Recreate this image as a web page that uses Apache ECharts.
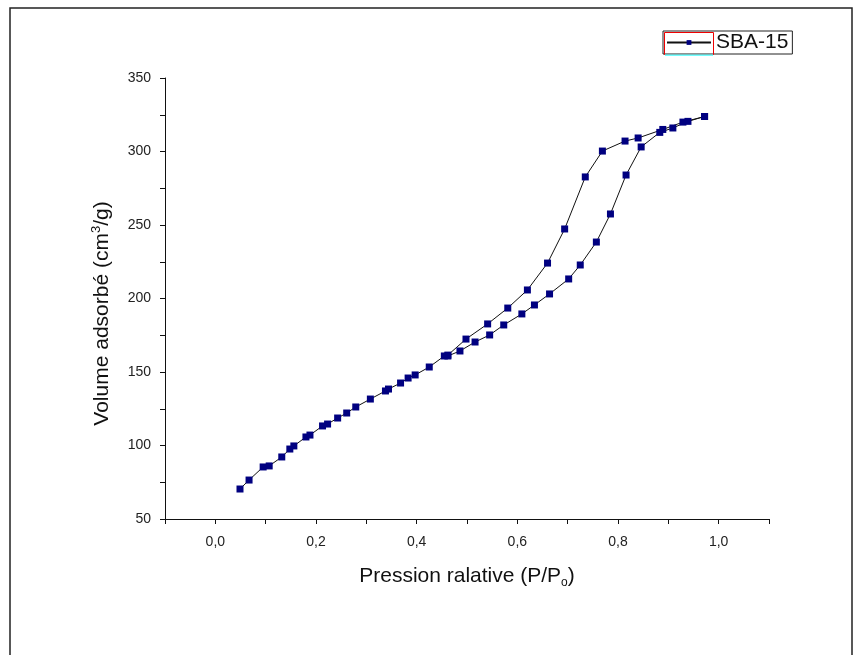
<!DOCTYPE html>
<html>
<head>
<meta charset="utf-8">
<script src="https://cdn.jsdelivr.net/npm/echarts@6/dist/echarts.min.js"></script>
<style>html,body{margin:0;padding:0;background:#fff;}#c{width:861px;height:655px;}</style>
</head>
<body>
<div id="c"></div>
<script>
// Adsorption branch (P/P0, volume cm3/g)
var adsX = [0.049,0.067,0.095,0.107,0.132,0.148,0.156,0.180,0.188,0.213,0.223,0.243,0.261,0.279,0.308,0.338,0.344,0.368,0.383,0.397,0.425,0.455,0.462,0.486,0.516,0.545,0.573,0.609,0.634,0.664,0.702,0.725,0.757,0.785,0.816,0.846,0.883,0.909,0.939,0.972];
var adsY = [70.4,76.5,85.4,86.1,92.2,97.6,99.7,105.8,107.1,113.3,114.6,118.7,122.1,126.2,131.6,137.1,138.4,142.5,145.9,148.0,153.4,160.9,160.9,164.3,170.4,175.2,182.0,189.5,195.6,203.1,213.3,222.8,238.4,257.5,284.0,303.1,313.0,316.0,320.5,323.8];
// Desorption branch
var desX = [0.972,0.929,0.889,0.840,0.814,0.769,0.735,0.694,0.660,0.620,0.581,0.541,0.498,0.462];
var desY = [323.8,320.0,315.0,309.2,307.1,300.3,282.7,247.3,224.1,205.8,193.5,182.7,172.4,161.5];
var seriesName = 'SBA-15';
var xTickLabels = {'0':'0,0','2':'0,2','4':'0,4','6':'0,6','8':'0,8','10':'1,0'};
var yTickLabels = {'50':'50','100':'100','150':'150','200':'200','250':'250','300':'300','350':'350'};

var data = [];
for (var i = 0; i < adsX.length; i++) data.push([adsX[i], adsY[i]]);
for (var j = 0; j < desX.length; j++) data.push([desX[j], desY[j]]);

var font = 'Liberation Sans, Arial, sans-serif';
var chart = echarts.init(document.getElementById('c'), null, {renderer: 'canvas'});
chart.setOption({
  animation: false,
  backgroundColor: '#fff',
  grid: {left: 165, top: 78, right: 92, bottom: 136, containLabel: false},
  legend: {
    left: 663, top: 31,
    data: [seriesName],
    borderColor: '#222', borderWidth: 1,
    padding: [1, 4, 1, 3],
    itemWidth: 44, itemHeight: 6, itemGap: 10,
    textStyle: {fontFamily: font, fontSize: 21, color: '#111', padding: [2, 0, 0, 0]}
  },
  xAxis: {
    type: 'value', min: -0.1, max: 1.1, interval: 0.1,
    name: 'Pression ralative (P/P{s|o})',
    nameLocation: 'middle', nameGap: 44,
    nameTextStyle: {fontFamily: font, fontSize: 21, color: '#111',
      rich: {s: {fontFamily: font, fontSize: 12, color: '#111', padding: [14, 0, 0, 0]}}},
    axisLine: {show: true, onZero: false, lineStyle: {color: '#111', width: 1}},
    axisTick: {show: true, inside: false, length: 5, lineStyle: {color: '#111'}},
    splitLine: {show: false},
    axisLabel: {fontFamily: font, fontSize: 14, color: '#222', margin: 16,
      formatter: function (v) { var k = String(Math.round(v * 10)); return xTickLabels[k] || ''; }}
  },
  yAxis: {
    type: 'value', min: 50, max: 350, interval: 25,
    name: 'Volume adsorbé (cm{p|3}/g)',
    nameLocation: 'middle', nameGap: 50,
    nameTextStyle: {fontFamily: font, fontSize: 21, color: '#111', padding: [0, 30, 0, 0],
      rich: {p: {fontFamily: font, fontSize: 13, color: '#111', padding: [0, 0, 12, 0]}}},
    axisLine: {show: true, onZero: false, lineStyle: {color: '#111', width: 1}},
    axisTick: {show: true, inside: false, length: 5, lineStyle: {color: '#111'}},
    splitLine: {show: false},
    axisLabel: {fontFamily: font, fontSize: 14, color: '#222', margin: 14,
      formatter: function (v) { return yTickLabels[String(Math.round(v))] || ''; }}
  },
  graphic: [
    {type: 'rect', shape: {x: 10, y: 8, width: 842, height: 660}, style: {fill: 'none', stroke: '#222', lineWidth: 1.5}, silent: true},
    {type: 'rect', shape: {x: 664.5, y: 32.5, width: 49, height: 22}, style: {fill: 'none', stroke: '#e00', lineWidth: 1}, silent: true, z: 100},
    {type: 'line', shape: {x1: 665, y1: 55, x2: 713, y2: 55}, style: {stroke: '#4ff', lineWidth: 1.5}, silent: true, z: 101}
  ],
  series: [{
    name: seriesName,
    type: 'line',
    data: data,
    symbol: 'rect',
    symbolSize: 7,
    itemStyle: {color: '#000080'},
    lineStyle: {color: '#111', width: 1},
    showSymbol: true
  }]
});
</script>
</body>
</html>
